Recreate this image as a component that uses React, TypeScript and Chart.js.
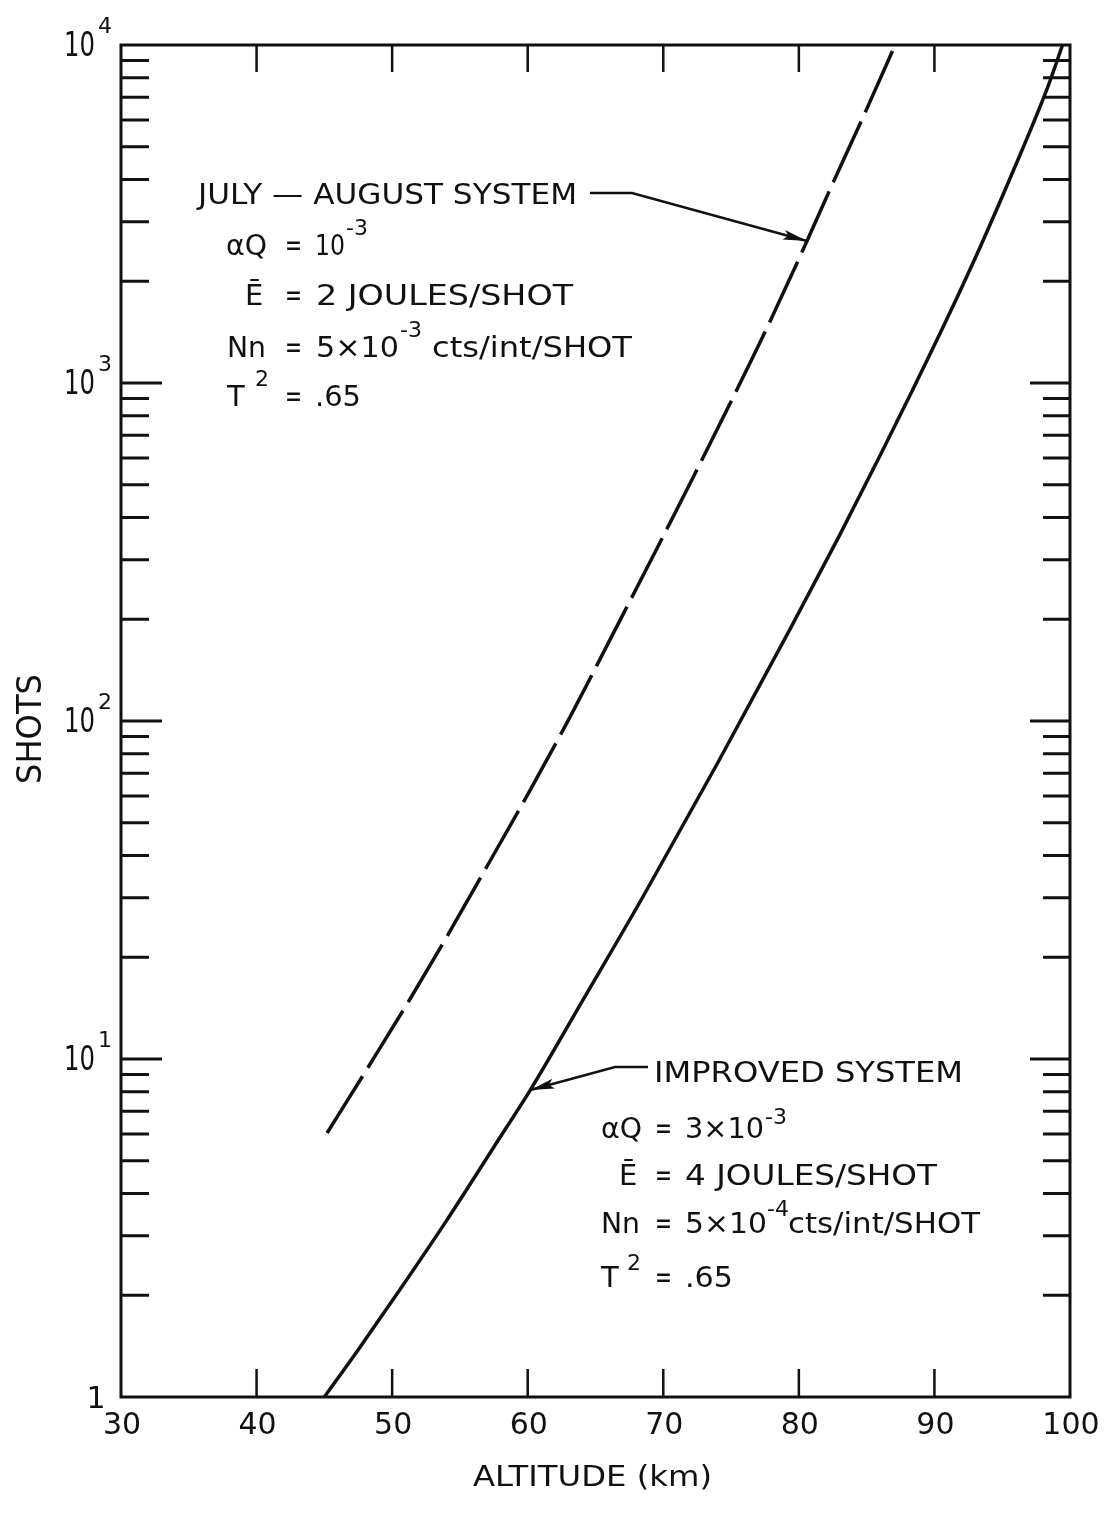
import React, { useEffect, useRef } from "react";
import { Chart, registerables } from "chart.js";

Chart.register(...registerables);

// ---- data ----
const altitudeJuly = [45.2, 48.4, 51.3, 54.3, 57.2, 60.2, 63.3, 66.1, 69.2, 72.0, 74.7, 77.7, 80.6, 82.3, 85.0, 87.1];
const shotsJuly = [6.04, 9.7, 15.0, 24.0, 38.4, 62.7, 106, 175, 305, 507, 834, 1470, 2630, 3740, 6460, 10000];
const altitudeImproved = [45, 47.5, 50.4, 54, 58, 60.2, 64.1, 68.5, 74.0, 79.35, 83.0, 86.0, 88.4, 90.9, 93.4, 95.8, 98.3, 99.45];
const shotsImproved = [1, 1.38, 2.03, 3.32, 5.9, 8.1, 15, 30.2, 75, 187, 354, 611, 955, 1540, 2540, 4230, 7400, 10000];

const xTickValues = [30, 40, 50, 60, 70, 80, 90, 100];
const yDecadeValues = [1, 10, 100, 1000, 10000];
const yDecadeExponents = ["", "1", "2", "3", "4"];
const xTitle = "ALTITUDE (km)";
const yTitle = "SHOTS";
const julyArrowIndex = 12;
const improvedArrowIndex = 5;

const FONT = '"DejaVu Sans", sans-serif';
const INK = "#111";

function txt(
  ctx: CanvasRenderingContext2D,
  s: string,
  x: number,
  base: number,
  size: number,
  w?: number,
  align: "left" | "center" | "right" = "left"
) {
  ctx.save();
  ctx.font = `${size}px ${FONT}`;
  ctx.textBaseline = "alphabetic";
  ctx.textAlign = "left";
  const m = ctx.measureText(s).width;
  const sx = w ? w / m : 1;
  const ww = w ?? m;
  let left = x;
  if (align === "center") left = x - ww / 2;
  if (align === "right") left = x - ww;
  ctx.translate(left, base);
  ctx.scale(sx, 1);
  ctx.fillStyle = INK;
  ctx.fillText(s, 0, 0);
  ctx.restore();
}

function leader(ctx: CanvasRenderingContext2D, pts: number[][], tip: number[]) {
  ctx.save();
  ctx.strokeStyle = INK;
  ctx.fillStyle = INK;
  ctx.lineWidth = 2.5;
  ctx.beginPath();
  ctx.moveTo(pts[0][0], pts[0][1]);
  for (let i = 1; i < pts.length; i++) ctx.lineTo(pts[i][0], pts[i][1]);
  ctx.lineTo(tip[0], tip[1]);
  ctx.stroke();
  const last = pts[pts.length - 1];
  const ang = Math.atan2(tip[1] - last[1], tip[0] - last[0]);
  const L = 24;
  const H = 5;
  ctx.translate(tip[0], tip[1]);
  ctx.rotate(ang);
  ctx.beginPath();
  ctx.moveTo(0, 0);
  ctx.lineTo(-L, -H);
  ctx.lineTo(-L * 0.8, 0);
  ctx.lineTo(-L, H);
  ctx.closePath();
  ctx.fill();
  ctx.restore();
}

const decorPlugin = {
  id: "decor",
  afterDraw(chart: any) {
    const ctx: CanvasRenderingContext2D = chart.ctx;
    const xs = chart.scales.x;
    const ys = chart.scales.y;
    const a = chart.chartArea;
    ctx.save();
    ctx.strokeStyle = INK;
    ctx.lineCap = "butt";

    // frame
    ctx.lineWidth = 3;
    ctx.strokeRect(a.left, a.top, a.right - a.left, a.bottom - a.top);

    // x ticks (inward, top and bottom)
    ctx.lineWidth = 2.5;
    xTickValues.forEach((v) => {
      const px = xs.getPixelForValue(v);
      if (v !== xs.min && v !== xs.max) {
        ctx.beginPath();
        ctx.moveTo(px, a.bottom);
        ctx.lineTo(px, a.bottom - 28);
        ctx.moveTo(px, a.top);
        ctx.lineTo(px, a.top + 27);
        ctx.stroke();
      }
      txt(ctx, String(v), px + 1, a.bottom + 37, 30, undefined, "center");
    });

    // y ticks (inward, left and right)
    ctx.lineWidth = 3;
    for (let d = 0; d < yDecadeValues.length - 1; d++) {
      const base = yDecadeValues[d];
      for (let m = 1; m <= 9; m++) {
        if (m === 1 && d === 0) continue;
        const py = ys.getPixelForValue(base * m);
        const major = m === 1;
        ctx.beginPath();
        ctx.moveTo(a.left, py);
        ctx.lineTo(a.left + (major ? 41 : 28), py);
        ctx.moveTo(a.right, py);
        ctx.lineTo(a.right - (major ? 40 : 27), py);
        ctx.stroke();
      }
    }

    // y tick labels
    yDecadeValues.forEach((v, i) => {
      const py = ys.getPixelForValue(v);
      if (yDecadeExponents[i] === "") {
        txt(ctx, "1", 96, py + 11, 30, undefined, "center");
      } else {
        txt(ctx, "10", 95, py + 11, 33, 31, "right");
        txt(ctx, yDecadeExponents[i], 98, py - 12, 22);
      }
    });

    // axis titles
    txt(ctx, xTitle, (a.left + a.right) / 2 - 3, a.bottom + 89, 28, 239, "center");
    ctx.save();
    ctx.translate(41, 729);
    ctx.rotate(-Math.PI / 2);
    txt(ctx, yTitle, 0, 0, 33, 110, "center");
    ctx.restore();

    const EQW = 17;
    const EQS = 31;
    // annotation: July-August system
    txt(ctx, "JULY \u2014 AUGUST SYSTEM", 198, 204, 28, 379);
    txt(ctx, "\u03b1Q", 226, 255, 29, 41);
    txt(ctx, "=", 285, 255, EQS, EQW);
    txt(ctx, "10", 315, 255, 29, 30);
    txt(ctx, "-3", 346, 235, 22);
    txt(ctx, "\u0112", 245, 305, 29);
    txt(ctx, "=", 285, 305, EQS, EQW);
    txt(ctx, "2 JOULES/SHOT", 316, 305, 28, 257);
    txt(ctx, "Nn", 227, 357, 29, 39);
    txt(ctx, "=", 285, 357, EQS, EQW);
    txt(ctx, "5\u00d710", 316, 357, 29, 83);
    txt(ctx, "-3", 400, 337, 22);
    txt(ctx, "cts/int/SHOT", 432, 357, 28, 200);
    txt(ctx, "T", 227, 406, 29);
    txt(ctx, "2", 255, 386, 22);
    txt(ctx, "=", 285, 406, EQS, EQW);
    txt(ctx, ".65", 315, 406, 29, 46);

    const tipA = [
      xs.getPixelForValue(altitudeJuly[julyArrowIndex]),
      ys.getPixelForValue(shotsJuly[julyArrowIndex]),
    ];
    leader(ctx, [[590, 193], [632, 193]], tipA);

    // annotation: improved system
    txt(ctx, "IMPROVED SYSTEM", 654, 1082, 28, 309);
    txt(ctx, "\u03b1Q", 601, 1138, 29, 41);
    txt(ctx, "=", 655, 1138, EQS, EQW);
    txt(ctx, "3\u00d710", 685, 1138, 29, 79);
    txt(ctx, "-3", 765, 1124, 22);
    txt(ctx, "\u0112", 619, 1185, 29);
    txt(ctx, "=", 655, 1185, EQS, EQW);
    txt(ctx, "4 JOULES/SHOT", 685, 1185, 28, 252);
    txt(ctx, "Nn", 601, 1233, 29, 39);
    txt(ctx, "=", 655, 1233, EQS, EQW);
    txt(ctx, "5\u00d710", 685, 1233, 29, 82);
    txt(ctx, "-4", 767, 1216, 22);
    txt(ctx, "cts/int/SHOT", 788, 1233, 28, 192);
    txt(ctx, "T", 601, 1287, 29);
    txt(ctx, "2", 627, 1270, 22);
    txt(ctx, "=", 655, 1287, EQS, EQW);
    txt(ctx, ".65", 685, 1287, 29, 48);

    const tipB = [
      xs.getPixelForValue(altitudeImproved[improvedArrowIndex]),
      ys.getPixelForValue(shotsImproved[improvedArrowIndex]),
    ];
    leader(ctx, [[648, 1067], [615, 1067]], tipB);

    ctx.restore();
  },
};

export default function App() {
  const ref = useRef<HTMLCanvasElement | null>(null);
  useEffect(() => {
    if (!ref.current) return;
    const chart = new Chart(ref.current, {
      type: "line",
      data: {
        datasets: [
          {
            label: "July-August System",
            data: altitudeJuly.map((x, i) => ({ x, y: shotsJuly[i] })),
            borderColor: INK,
            borderWidth: 3.5,
            borderDash: [67, 10],
            pointRadius: 0,
            fill: false,
            cubicInterpolationMode: "monotone",
          },
          {
            label: "Improved System",
            data: altitudeImproved.map((x, i) => ({ x, y: shotsImproved[i] })),
            borderColor: INK,
            borderWidth: 3.5,
            pointRadius: 0,
            fill: false,
            cubicInterpolationMode: "monotone",
          },
        ],
      },
      options: {
        animation: false,
        responsive: false,
        maintainAspectRatio: false,
        layout: { padding: { left: 121, right: 41, top: 45, bottom: 116 } },
        plugins: { legend: { display: false }, tooltip: { enabled: false } },
        scales: {
          x: { type: "linear", min: 30, max: 100, display: false },
          y: { type: "logarithmic", min: 1, max: 10000, display: false },
        },
      },
      plugins: [decorPlugin],
    } as any);
    return () => chart.destroy();
  }, []);
  return (
    <div style={{ position: "absolute", left: 0, top: 0, width: 1111, height: 1513, background: "#fff" }}>
      <canvas ref={ref} width={1111} height={1513} />
    </div>
  );
}
